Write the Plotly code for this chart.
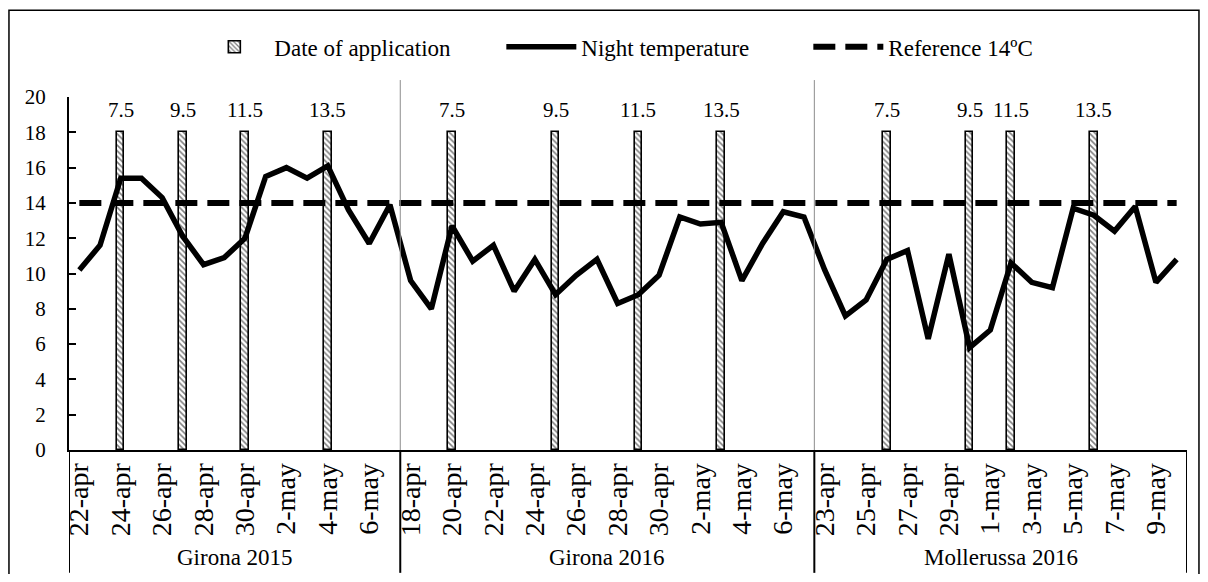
import plotly.graph_objects as go

# ---------------- data ----------------
groups = ["Girona 2015", "Girona 2016", "Mollerussa 2016"]

dates_girona_2015 = ["22-apr", "23-apr", "24-apr", "25-apr", "26-apr", "27-apr", "28-apr", "29-apr",
                     "30-apr", "1-may", "2-may", "3-may", "4-may", "5-may", "6-may", "7-may"]
dates_girona_2016 = ["18-apr", "19-apr", "20-apr", "21-apr", "22-apr", "23-apr", "24-apr", "25-apr",
                     "26-apr", "27-apr", "28-apr", "29-apr", "30-apr", "1-may", "2-may", "3-may",
                     "4-may", "5-may", "6-may", "7-may"]
dates_mollerussa_2016 = ["23-apr", "24-apr", "25-apr", "26-apr", "27-apr", "28-apr", "29-apr", "30-apr",
                         "1-may", "2-may", "3-may", "4-may", "5-may", "6-may", "7-may", "8-may",
                         "9-may", "10-may"]

temp_girona_2015 = [10.2, 11.6, 15.4, 15.4, 14.3, 12.1, 10.5, 10.9, 12.0, 15.5, 16.0, 15.4, 16.1,
                    13.6, 11.7, 13.9]
temp_girona_2016 = [9.6, 8.0, 12.7, 10.7, 11.6, 9.0, 10.8, 8.8, 9.9, 10.8, 8.3, 8.8, 9.9, 13.2,
                    12.8, 12.9, 9.6, 11.7, 13.5, 13.2]
temp_mollerussa_2016 = [10.2, 7.6, 8.5, 10.8, 11.3, 6.3, 11.1, 5.8, 6.8, 10.6, 9.5, 9.2, 13.7, 13.3,
                        12.4, 13.8, 9.5, 10.8]

app_dates_girona_2015 = ["24-apr", "27-apr", "30-apr", "4-may"]
app_dates_girona_2016 = ["20-apr", "25-apr", "29-apr", "3-may"]
app_dates_mollerussa_2016 = ["26-apr", "30-apr", "2-may", "6-may"]
app_labels = ["7.5", "9.5", "11.5", "13.5"]
app_height = 18

reference_temp = 14

# ---------------- assemble ----------------
group_dates = [dates_girona_2015, dates_girona_2016, dates_mollerussa_2016]
group_temps = [temp_girona_2015, temp_girona_2016, temp_mollerussa_2016]
group_apps = [app_dates_girona_2015, app_dates_girona_2016, app_dates_mollerussa_2016]

x_all, t_all, date_all = [], [], []
bar_x, bar_y, bar_text = [], [], []
bounds = []
offset = 0
for dates, temps, apps in zip(group_dates, group_temps, group_apps):
    for i, (d, t) in enumerate(zip(dates, temps)):
        x_all.append(offset + i)
        t_all.append(t)
        date_all.append(d)
    for a, lab in zip(apps, app_labels):
        bar_x.append(offset + dates.index(a))
        bar_y.append(app_height)
        bar_text.append(lab)
    bounds.append((offset, offset + len(dates)))
    offset += len(dates)
N = offset

FONT = "Liberation Serif"

fig = go.Figure()

fig.add_trace(go.Bar(
    x=bar_x, y=bar_y, name="Date of application", width=0.36,
    marker=dict(color="white", line=dict(color="black", width=1.6),
                pattern=dict(shape="\\", fgcolor="black", bgcolor="white", size=4, solidity=0.4)),
))

fig.add_trace(go.Scatter(
    x=x_all, y=t_all, name="Night temperature", mode="lines",
    line=dict(color="black", width=5.5),
))

fig.add_trace(go.Scatter(
    x=x_all, y=[reference_temp] * N, name="Reference 14ºC", mode="lines",
    line=dict(color="black", width=6, dash="22px,10px"),
))

# shapes: group dividers, axis-box extensions, outer border
shapes = []
for (s, e) in bounds[:-1]:
    shapes.append(dict(type="line", xref="x", yref="paper", x0=e - 0.5, x1=e - 0.5,
                       y0=0, y1=1.048, line=dict(color="#8c8c8c", width=1)))
edges = [-0.5] + [e - 0.5 for (s, e) in bounds]
for xe in edges:
    shapes.append(dict(type="line", xref="x", yref="paper", x0=xe, x1=xe,
                       y0=-0.348, y1=0, line=dict(color="black", width=2)))
shapes.append(dict(type="path", xref="paper", yref="paper",
                   path="M -0.0537,-0.45 L -0.0537,1.246 L 1.0107,1.246 L 1.0107,-0.45",
                   line=dict(color="black", width=1.5), layer="below"))

annotations = []
for g, (s, e) in zip(groups, bounds):
    annotations.append(dict(text=g, xref="x", yref="paper", x=(s + e - 1) / 2, y=-0.305,
                            showarrow=False, yanchor="middle",
                            font=dict(family=FONT, size=23, color="black")))
# application labels above the bars
for bx, by, bt in zip(bar_x, bar_y, bar_text):
    annotations.append(dict(text=bt, xref="x", yref="y", x=bx, y=by, yanchor="bottom",
                            yshift=8, showarrow=False,
                            font=dict(family=FONT, size=21, color="black")))

tickvals = [x for x in x_all if x % 2 == 0]
ticktext = [date_all[x] for x in tickvals]

fig.update_layout(
    width=1192, height=566,
    margin=dict(l=61, r=13, t=89, b=124),
    paper_bgcolor="white", plot_bgcolor="white",
    font=dict(family=FONT, size=21, color="black"),
    showlegend=True,
    legend=dict(orientation="h", x=0.524, xanchor="center", y=1.142, yanchor="middle",
                font=dict(family=FONT, size=23, color="black"),
                itemwidth=70, entrywidth=222, entrywidthmode="pixels",
                bgcolor="rgba(0,0,0,0)", traceorder="normal"),
    shapes=shapes,
    annotations=annotations,
    bargap=0,
)

fig.update_xaxes(
    range=[-0.5, N - 0.5], tickmode="array", tickvals=tickvals, ticktext=ticktext,
    tickangle=-90, tickfont=dict(family=FONT, size=28, color="black"),
    showline=True, linecolor="black", linewidth=2, ticks="",
    showgrid=False, zeroline=False,
)
fig.update_yaxes(
    range=[0, 20], dtick=2, tick0=0,
    ticks="inside", ticklen=7, tickwidth=2, tickcolor="black",
    showline=True, linecolor="black", linewidth=2,
    showgrid=False, zeroline=False,
    tickfont=dict(family=FONT, size=21, color="black"),
    ticklabelstandoff=17,
)

fig.write_html("out.html")
